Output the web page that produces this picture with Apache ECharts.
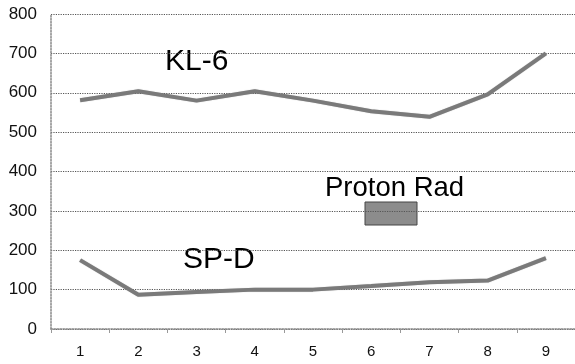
<!DOCTYPE html>
<html><head><meta charset="utf-8">
<script src="https://cdn.jsdelivr.net/npm/echarts@6/dist/echarts.min.js"></script>
<style>html,body{margin:0;padding:0;background:#fff}#c{width:575px;height:364px}</style>
</head><body><div id="c"></div>
<script>
const categories = ['1','2','3','4','5','6','7','8','9'];
const kl6 = [581, 604, 580, 604, 580, 553, 539, 596, 700];
const spd = [175, 87, 94, 100, 100, 109, 119, 123, 180];
const yTicks = [0, 100, 200, 300, 400, 500, 600, 700, 800];

const chart = echarts.init(document.getElementById('c'));
const font = 'Liberation Sans, Arial, sans-serif';
const lineStyle = {color: '#7a7a7a', width: 4, shadowColor: 'rgba(0,0,0,0.25)', shadowBlur: 1};
chart.setOption({
  animation: false,
  grid: {left: 51, right: -2, top: 14, bottom: 35},
  xAxis: {
    type: 'category', data: categories, boundaryGap: true,
    axisLine: {lineStyle: {color: '#888', type: 'dotted', width: 1.5}},
    axisTick: {show: true, inside: false, length: 4, lineStyle: {color: '#999'}},
    axisLabel: {color: '#111', fontFamily: font, fontSize: 15, margin: 15}
  },
  yAxis: {
    type: 'value', min: yTicks[0], max: yTicks[yTicks.length - 1], interval: 100,
    axisLine: {show: true, lineStyle: {color: '#888', type: 'dotted', width: 1.5}},
    axisTick: {show: false},
    splitLine: {lineStyle: {color: '#555', type: 'dotted', width: 1.2}},
    axisLabel: {color: '#111', fontFamily: font, fontSize: 17, margin: 14}
  },
  graphic: [
    {type: 'text', style: {x: 165, y: 62, text: 'KL-6', font: '30px ' + font, fill: '#000', verticalAlign: 'middle'}},
    {type: 'text', style: {x: 183, y: 260, text: 'SP-D', font: '30px ' + font, fill: '#000', verticalAlign: 'middle'}},
    {type: 'text', style: {x: 325, y: 188, text: 'Proton Rad', font: '27.5px ' + font, fill: '#000', verticalAlign: 'middle'}},
    {type: 'rect', shape: {x: 365, y: 202, width: 52, height: 23}, style: {fill: '#8c8c8c', stroke: '#444', lineWidth: 1}}
  ],
  series: [
    {name: 'KL-6', type: 'line', data: kl6, symbol: 'none', lineStyle: lineStyle},
    {name: 'SP-D', type: 'line', data: spd, symbol: 'none', lineStyle: lineStyle}
  ]
});
</script></body></html>
